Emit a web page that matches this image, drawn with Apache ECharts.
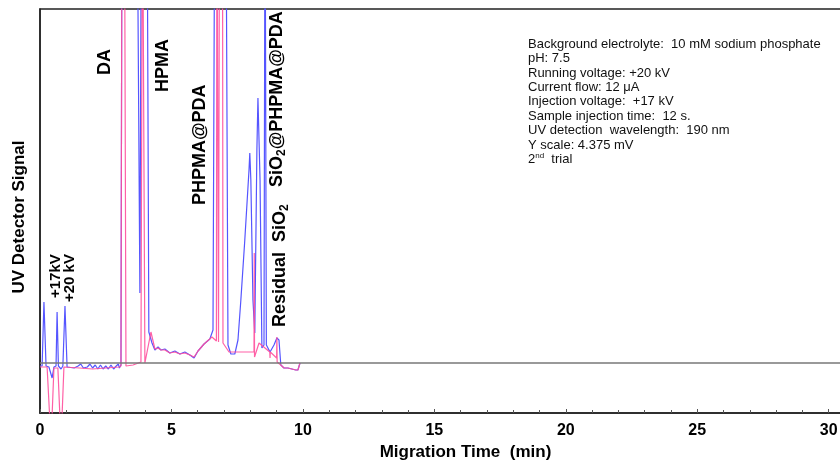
<!DOCTYPE html>
<html>
<head>
<meta charset="utf-8">
<title>CE electropherogram</title>
<script src="https://cdn.jsdelivr.net/npm/echarts@6/dist/echarts.min.js"></script>
<style>
  html, body { margin: 0; padding: 0; background: #fff; }
  #chart-container { width: 840px; height: 465px; }
</style>
</head>
<body>
<div id="chart-container"></div>
<script>
/* ── Dados (tempo em min, sinal em unidades arbitrárias; 0 = linha de base) ── */
var blueTime = [0, 0.08, 0.15, 0.23, 0.34, 0.46, 0.53, 0.61, 0.65, 0.70,
  0.80, 0.87, 0.95, 1.03, 1.1, 1.3, 1.45, 1.55, 1.65, 1.8,
  1.9, 2.0, 2.1, 2.2, 2.3, 2.4, 2.5, 2.6, 2.7, 2.8,
  2.9, 2.98, 3.02, 3.08, 3.12, 3.69, 3.80, 3.86, 4.07, 4.14,
  4.26, 4.37, 4.49, 4.60, 4.75, 4.94, 5.13, 5.32, 5.51, 5.70,
  5.86, 6.01, 6.24, 6.46, 6.58, 6.65, 7.07, 7.15, 7.26, 7.41,
  7.53, 7.64, 7.79, 7.95, 7.98, 8.02, 8.10, 8.17, 8.25, 8.29,
  8.37, 8.44, 8.52, 8.56, 8.61, 8.75, 8.90, 9.01, 9.09, 9.16,
  9.28, 9.43, 9.58, 9.73, 9.81, 9.89]
var blueSignal = [-3, -3, 61, -3, -4, -15, -4, -3, 51, -3,
  -6, -3, 57, -4, -4, -5, -3, -1, -5, -4,
  -1, -5, -2, -6, -2, -6, -3, -6, -2, -6,
  -3, -1, -5, -2, 500, 500, 70, 500, 500, 31,
  20, 13, 16, 13, 14, 10, 12, 9, 11, 8,
  5, 12, 19, 24, 33, 500, 500, 18, 9, 9,
  23, 63, 123, 193, 210, 183, 63, 30, 213, 265,
  183, 15, 18, 500, 18, 11, 18, 25, 23, -2,
  -5, -5, -6, -7, -7, 0]

var pinkTime = [0, 0.27, 0.42, 0.53, 0.68, 0.80, 0.91, 1.5, 2.0, 2.5,
  3.0, 3.08, 3.12, 3.21, 3.27, 3.54, 3.84, 3.90, 3.95, 3.99,
  4.22, 4.30, 4.37, 4.49, 4.60, 4.75, 4.94, 5.13, 5.32, 5.51,
  5.70, 5.86, 6.01, 6.24, 6.54, 6.71, 6.73, 6.77, 6.79, 6.83,
  6.94, 6.96, 7.19, 8.14, 8.15, 8.16, 8.21, 8.33, 8.74, 8.75,
  8.76, 9.00, 9.01, 9.02, 9.16, 9.28, 9.43, 9.58, 9.73, 9.81,
  9.89]
var pinkSignal = [-4, -4, -80, -5, -5, -80, -4, -5, -6, -5,
  -4, -3, 500, 500, -3, -2, 1, 500, 500, 0,
  31, 22, 14, 15, 13, 13, 10, 11, 9, 10,
  8, 6, 12, 19, 26, 22, 500, 500, 21, 500,
  500, 20, 11, 11, 110, 6, 6, 20, 11, 5,
  11, 5, 26, 1, -2, -5, -5, -6, -7, -7,
  0]

var xTicks = [0, 5, 10, 15, 20, 25, 30]

var infoLines = [
  'Background electrolyte:  10 mM sodium phosphate',
  'pH: 7.5',
  'Running voltage: +20 kV',
  'Current flow: 12 μA',
  'Injection voltage:  +17 kV',
  'Sample injection time:  12 s.',
  'UV detection  wavelength:  190 nm',
  'Y scale: 4.375 mV',
  '2{sup|nd}  trial'
]

var FONT = '"Liberation Sans", Arial, Helvetica, sans-serif'

function pairs(xs, ys) {
  return xs.map(function(x, i) { return [x, ys[i]] })
}

/* ── Rótulos verticais dos picos ───────────────────────────────────────── */
function vlabel(text, x, yBottom, size) {
  size = size || 18
  return {
    type: 'text',
    x: x,
    y: yBottom,
    rotation: Math.PI / 2,
    silent: true,
    style: {
      text: text,
      align: 'left',
      verticalAlign: 'middle',
      fontFamily: FONT,
      fontWeight: 'bold',
      fontSize: size,
      fill: '#000',
      rich: {
        s: { fontFamily: FONT, fontWeight: 'bold', fontSize: 12, lineHeight: 12, verticalAlign: 'bottom', fill: '#000' },
        m: { fontFamily: FONT, fontWeight: 'bold', fontSize: size, lineHeight: 22, fill: '#000' }
      }
    }
  }
}

var myChart = echarts.init(document.getElementById('chart-container'), null, { renderer: 'canvas' })

myChart.setOption({
  backgroundColor: '#fff',
  animation: false,
  grid: {
    left: 40,
    top: 9,
    width: 815,
    height: 404,
    containLabel: false,
    outerBoundsMode: 'none',
    show: true,
    borderColor: '#222',
    borderWidth: 1.5,
    backgroundColor: 'transparent'
  },
  xAxis: {
    type: 'value',
    min: 0,
    max: 31,
    interval: 5,
    name: 'Migration Time  (min)',
    nameLocation: 'middle',
    nameGap: 24,
    nameTextStyle: { fontFamily: FONT, fontWeight: 'bold', fontSize: 17, color: '#000', padding: [0, 0, 0, 36] },
    axisLine: { show: true, onZero: false, lineStyle: { color: '#222', width: 1.5 } },
    axisTick: { show: true, inside: true, length: 4, lineStyle: { color: '#555' } },
    minorTick: { show: true, splitNumber: 5, length: 3, lineStyle: { color: '#555' } },
    splitLine: { show: false },
    axisLabel: {
      margin: 10,
      fontFamily: FONT,
      fontWeight: 'bold',
      fontSize: 16,
      color: '#000',
      showMaxLabel: false,
      formatter: function(v) { return xTicks.indexOf(v) >= 0 ? String(v) : '' }
    }
  },
  yAxis: {
    type: 'value',
    min: -50,
    max: 354,
    name: 'UV Detector Signal',
    nameLocation: 'middle',
    nameGap: 12,
    nameTextStyle: { fontFamily: FONT, fontWeight: 'bold', fontSize: 17, color: '#000', padding: [0, 12, 0, 0] },
    axisLine: { show: true, onZero: false, lineStyle: { color: '#222', width: 1.5 } },
    axisTick: { show: false },
    axisLabel: { show: false },
    splitLine: { show: false }
  },
  series: [
    {
      name: 'trial 2',
      type: 'line',
      data: pairs(blueTime, blueSignal),
      showSymbol: false,
      clip: true,
      lineStyle: { color: '#5555ff', width: 1.2 },
      markLine: {
        silent: true,
        symbol: 'none',
        label: { show: false },
        lineStyle: { color: '#777', width: 1.5, type: 'solid' },
        data: [{ yAxis: 0 }]
      },
      z: 2
    },
    {
      name: 'trial 1',
      type: 'line',
      data: pairs(pinkTime, pinkSignal),
      showSymbol: false,
      clip: true,
      lineStyle: { color: '#ff4f9c', width: 1.2, opacity: 0.9 },
      z: 3
    }
  ],
  graphic: [
    vlabel('DA', 105, 75),
    vlabel('HPMA', 163, 92),
    vlabel('PHPMA@PDA', 200, 205),
    vlabel('{m|SiO}{s|2}{m|@PHPMA@PDA}', 277, 187),
    vlabel('{m|Residual  SiO}{s|2}', 280, 327),
    vlabel('+17kV', 56, 298, 15),
    vlabel('+20 kV', 70, 302, 15),
    {
      type: 'text',
      left: 528,
      top: 37,
      silent: true,
      style: {
        text: infoLines.join('\n'),
        fontFamily: FONT,
        fontSize: 13,
        lineHeight: 14.4,
        fill: '#111',
        rich: {
          sup: { fontFamily: FONT, fontSize: 8, verticalAlign: 'top', lineHeight: 14.4, fill: '#111' }
        }
      }
    }
  ]
})

window.addEventListener('resize', function() { myChart.resize() })
</script>
</body>
</html>
